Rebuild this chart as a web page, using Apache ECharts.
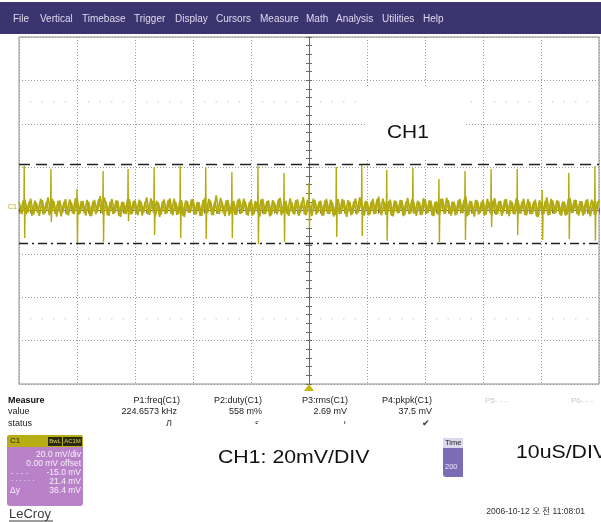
<!DOCTYPE html>
<html><head><meta charset="utf-8">
<script src="https://cdn.jsdelivr.net/npm/echarts@6/dist/echarts.min.js"></script>
<style>html,body{margin:0;padding:0;background:#fff}#c{width:601px;height:522px}</style>
</head><body><div id="c"></div><script>
// ---- data ----
const menuItems = ['File','Vertical','Timebase','Trigger','Display','Cursors','Measure','Math','Analysis','Utilities','Help'];
const xTicksUs = [-50,-40,-30,-20,-10,0,10,20,30,40,50];      // 10 uS/DIV
const yTicksMv = [-80,-60,-40,-20,0,20,40,60,80];              // 20 mV/DIV
const dotRowsMv = [50,-50];
const baselineMv = 1.4;
const noiseStartUs = -50, noiseStepUs = 0.5;
const noiseMv = [
 2.8,-3.1,3.6,-2.4,4.1,-3.3,2.2,-3.9,3.4,-2.7,4.6,-3.0,2.9,-4.2,3.2,-2.5,3.8,-3.6,2.4,-3.1,
 4.4,-2.8,3.0,-3.7,2.6,-4.0,3.5,-2.3,5.2,-3.2,2.7,-3.8,3.9,-2.6,3.1,-4.3,2.5,-3.0,4.0,-2.9,
 3.3,-3.5,2.8,-2.4,4.7,-3.4,3.0,-4.1,2.3,-3.2,3.7,-2.7,4.2,-3.6,2.6,-3.0,3.4,-4.4,2.9,-2.5,
 3.8,-3.3,2.4,-3.9,4.3,-2.6,3.1,-3.5,5.6,-3.0,2.7,-4.0,3.5,-2.8,3.0,-3.4,4.1,-2.3,2.8,-3.7,
 3.6,-3.1,2.5,-4.2,3.9,-2.9,3.3,-3.6,2.6,-3.2,4.5,-2.7,3.0,-3.9,2.4,-3.3,3.7,-2.6,4.8,-3.5,
 2.9,-4.0,3.4,-2.5,3.1,-3.7,4.0,-3.0,2.6,-3.4,3.8,-2.8,3.2,-4.3,2.7,-3.1,4.2,-2.4,3.5,-3.8,
 2.8,-3.2,3.9,-2.9,5.0,-3.6,2.5,-3.0,3.6,-4.1,2.9,-2.6,3.3,-3.5,4.4,-2.8,3.0,-3.9,2.6,-3.3,
 3.7,-2.5,3.1,-4.0,2.8,-3.4,4.1,-2.9,3.4,-3.7,2.5,-3.1,3.9,-2.7,5.3,-3.5,2.9,-4.2,3.2,-2.6,
 3.5,-3.3,2.7,-3.8,4.3,-3.0,3.0,-2.6,3.8,-4.0,2.6,-3.2,3.4,-2.8,4.0,-3.6,2.8,-3.1,3.6,-4.4,
 2.5,-2.9,4.6,-3.4,3.2,-2.7,3.0,-3.9,2.7,-3.3,4.2,-2.5,3.5,-3.7,2.9,-3.0,3.8,-4.1,2.6,-2.8,
 3.3];
const noiseBStartUs = -49.75;
const noiseBMv = [
 -2.6,3.4,-3.0,2.7,-3.8,3.1,-2.5,4.0,-3.3,2.6,-3.6,3.9,-2.8,3.0,-4.1,2.5,-3.2,3.7,-2.7,4.3,
 -3.4,2.9,-2.6,3.5,-4.0,2.8,-3.1,3.8,-2.4,4.5,-3.5,2.7,-3.0,3.3,-3.9,2.6,-2.8,4.1,-3.3,3.0,
 -2.9,3.6,-3.7,2.5,-3.2,4.2,-2.6,3.1,-4.3,2.8,-3.0,3.5,-2.7,4.0,-3.4,2.9,-3.8,3.2,-2.5,3.7,
 -3.1,2.6,-4.0,3.4,-2.8,3.9,-3.5,2.7,-3.0,4.4,-2.6,3.2,-3.7,2.8,-3.3,3.6,-2.9,4.1,-3.4,2.5,
 -3.8,3.0,-2.7,3.7,-3.2,2.9,-4.1,3.4,-2.5,3.8,-3.6,2.6,-3.0,4.2,-2.8,3.3,-3.9,2.7,-3.1,3.5,
 -2.6,4.0,-3.3,2.8,-3.7,3.1,-2.9,3.6,-4.2,2.5,-3.0,3.9,-2.7,3.4,-3.5,2.9,-3.2,4.6,-2.8,3.0,
 -3.6,2.7,-3.1,3.8,-2.5,4.1,-3.4,2.9,-3.9,3.2,-2.6,3.5,-4.0,2.8,-3.0,3.7,-2.7,3.1,-3.5,4.3,
 -2.9,3.3,-3.8,2.6,-3.2,3.9,-2.7,4.4,-3.0,2.8,-3.6,3.2,-2.5,3.6,-4.1,3.0,-2.8,3.5,-3.3,2.7,
 -3.7,4.0,-2.6,3.1,-3.4,2.9,-3.9,3.7,-2.8,3.3,-3.1,4.2,-2.7,2.6,-3.5,3.8,-3.0,2.8,-4.2,3.4,
 -2.7,3.0,-3.6,3.9,-2.9,3.3,-3.2,2.7,-3.8,4.1,-2.6,3.5,-3.1,2.9,-3.7,3.2,-2.8,3.6,-3.4,2.8];
const spikeTimesUs = [-49.1,-44.5,-40.0,-35.5,-31.2,-26.7,-22.2,-17.8,-13.3,-8.8,-4.3,0.0,4.7,9.1,13.4,17.9,22.4,26.9,31.4,35.9,40.2,44.8,49.3];
const spikeUpMv   = [20.6,19.1,9.9,18.2,19.1,20.0,20.5,20.0,17.7,20.5,17.3,12.7,20.0,21.0,18.7,19.6,14.5,18.2,19.1,19.1,9.4,17.3,20.5];
const spikeDownMv = [-12.7,-5.3,-15.4,-14.5,-5.0,-11.3,-12.7,-13.1,-12.7,-15.4,-14.5,-8.0,-12.2,-11.7,-14.0,-1.0,-14.5,-13.6,-7.6,-11.3,-13.6,-13.1,-14.0];
const cursorUpperMv = 21.4, cursorLowerMv = -15.0;
const measureHeaders = ['P1:freq(C1)','P2:duty(C1)','P3:rms(C1)','P4:pkpk(C1)'];
const measureValues  = ['224.6573 kHz','558 m%','2.69 mV','37.5 mV'];
const measureStatus  = ['Л','ε','ı','✔'];
const c1Panel = ['20.0 mV/div','0.00 mV offset','-15.0 mV','21.4 mV','36.4 mV'];

// ---- build ----
const SIG = '#b2aa10';
const noiseData = noiseMv.map((v,i)=>[noiseStartUs + i*noiseStepUs, baselineMv + v]);
const noiseBData = noiseBMv.map((v,i)=>[noiseBStartUs + i*noiseStepUs, baselineMv + v]);
const spikeData = [];
spikeTimesUs.forEach((t,i)=>{
  spikeData.push([t-0.05, baselineMv],[t, spikeUpMv[i]],[t+0.08, spikeDownMv[i]],[t+0.16, baselineMv],[t+0.16,'-']);
});
const dotData = [];
dotRowsMv.forEach(y=>{
  for(let i=0;i<xTicksUs.length-1;i++){
    const step=(xTicksUs[i+1]-xTicksUs[i])/5;
    for(let k=1;k<5;k++) dotData.push([xTicksUs[i]+k*step,y]);
  }
});

const F = '"Liberation Sans", Arial, sans-serif';
function txt(x,y,text,size,fill,align,extra){
  return Object.assign({type:'text', x:x, y:y, z:20, silent:true,
    style:{text:text, x:0, y:0, font:(extra&&extra.weight?extra.weight+' ':'')+size+'px '+F, fill:fill,
      textAlign:align||'left', textVerticalAlign:'middle'}}, extra&&extra.el||{});
}
const menuX = [13,40,82,134,175,216,260,306,336,382,423];
const graphics = [
  {type:'rect', z:1, shape:{x:0,y:2,width:601,height:32}, style:{fill:'#3c346f'}},
  ...menuItems.map((m,i)=>txt(menuX[i],19,m,10,'#dedbf0')),
  txt(8,207,'C1',7,SIG),
  {type:'rect', z:15, shape:{x:366,y:88,width:98,height:72}, style:{fill:'#fff'}},
  txt(387,133,'CH1',19,'#111','left',{el:{scaleX:1.1}}),
  {type:'polygon', z:20, shape:{points:[[304,391],[314,391],[309,384]]}, style:{fill:'#c9b90a'}},
  txt(8,401,'Measure',9,'#111','left',{weight:'bold'}),
  txt(8,412,'value',9,'#222'),
  txt(8,423.5,'status',9,'#222'),
  ...measureHeaders.map((h,i)=>txt([180,262,348,432][i],401,h,9,'#222','right')),
  ...measureValues.map((h,i)=>txt([177,262,347,432][i],412,h,9,'#222','right')),
  ...measureStatus.map((h,i)=>txt([172,259,346,430][i],424,h,9,'#333','right')),
  txt(485,401,'P5- - -',8,'#c8c8c8'),
  txt(571,401,'P6- - -',8,'#c8c8c8'),
  {type:'rect', z:25, shape:{x:198,y:424,width:216,height:74}, style:{fill:'#fff'}},
  txt(218,458,'CH1: 20mV/DIV',19,'#111','left',{el:{scaleX:1.12, z:26}}),
  // C1 channel panel
  {type:'rect', z:20, shape:{x:7,y:435,width:76,height:71,r:3}, style:{fill:'#b982c8'}},
  {type:'rect', z:21, shape:{x:7,y:435,width:76,height:12,r:[3,3,0,0]}, style:{fill:'#b7ad14'}},
  {type:'rect', z:22, shape:{x:48,y:437,width:14,height:9}, style:{fill:'#2a2a10'}},
  {type:'rect', z:22, shape:{x:63,y:437,width:19,height:9}, style:{fill:'#2a2a10'}},
  txt(10,441,'C1',8,'#222','left',{el:{z:23}}),
  txt(55,441.5,'BwL',6,'#d8d060','center',{el:{z:23}}),
  txt(72.5,441.5,'AC1M',6,'#d8d060','center',{el:{z:23}}),
  ...c1Panel.map((s,i)=>txt(81,[455,464,472.5,481.5,490.5][i],s,8.5,'#f7f0fa','right',{el:{z:23}})),
  txt(11,472.5,'- - - -',8,'#f0e6f4','left',{el:{z:23}}),
  txt(11,481.5,'· · · · · ·',7,'#f0e6f4','left',{el:{z:23}}),
  txt(10,490.5,'Δy',8.5,'#f7f0fa','left',{el:{z:23}}),
  txt(9,514,'LeCroy',13,'#3a3a3a','left'),
  {type:'line', z:20, shape:{x1:9,y1:521,x2:53,y2:521}, style:{stroke:'#3a3a3a',lineWidth:1}},
  // timebase panel
  {type:'rect', z:20, shape:{x:443,y:438,width:24,height:39,r:3}, style:{fill:'#7b6db5'}},
  {type:'rect', z:21, shape:{x:443,y:438,width:24,height:10,r:[3,3,0,0]}, style:{fill:'#dcd8ef'}},
  txt(445,443,'Time',7.5,'#222','left',{el:{z:22}}),
  txt(445,467,'200',7.5,'#eeeaff','left',{el:{z:22}}),
  {type:'rect', z:25, shape:{x:463,y:432,width:138,height:63}, style:{fill:'#fff'}},
  txt(516,452.5,'10uS/DIV',19,'#111','left',{el:{scaleX:1.12, z:26}}),
  {type:'text', x:585, y:512, z:20, style:{text:'2006-10-12 오 전 11:08:01', x:0,y:0, font:'8.5px "Liberation Sans","Noto Sans CJK KR",sans-serif', fill:'#333', textAlign:'right', textVerticalAlign:'middle'}}
];

const axisCommon = {
  type:'value', axisLabel:{show:false},
  axisLine:{show:true, onZero:true, lineStyle:{color:'#6a6a6a', width:1}},
  axisTick:{show:true, inside:true, length:3, lineStyle:{color:'#6a6a6a'}},
  minorTick:{show:true, splitNumber:5, length:3, lineStyle:{color:'#6a6a6a'}}
};
const xMin = xTicksUs[0], xMax = xTicksUs[xTicksUs.length-1], xInt = xTicksUs[1]-xTicksUs[0];
const yMin = yTicksMv[0], yMax = yTicksMv[yTicksMv.length-1], yInt = yTicksMv[1]-yTicksMv[0];
const split = {show:true, lineStyle:{color:'#9a9a9a', type:[1,2], width:1}};
const chart = echarts.init(document.getElementById('c'), null, {renderer:'canvas'});
chart.setOption({
  animation:false,
  backgroundColor:'#fff',
  grid:{left:19, top:37, width:580, height:347, show:true, borderColor:'#8c8c8c', borderWidth:1, backgroundColor:'#fff'},
  xAxis:[
    Object.assign({}, axisCommon, {min:xMin,max:xMax,interval:xInt, position:'bottom', splitLine:split}),
    Object.assign({}, axisCommon, {min:xMin,max:xMax,interval:xInt, position:'top', splitLine:{show:false}})
  ],
  yAxis:[
    Object.assign({}, axisCommon, {min:yMin,max:yMax,interval:yInt, position:'left', splitLine:split}),
    Object.assign({}, axisCommon, {min:yMin,max:yMax,interval:yInt, position:'right', splitLine:{show:false}})
  ],
  graphic:graphics,
  series:[
    {type:'scatter', silent:true, data:dotData, symbol:'circle', symbolSize:1.6, itemStyle:{color:'#c4c4c4'}, z:1},
    {type:'line', name:'noise', data:noiseData, showSymbol:false, symbol:'none', silent:true,
     lineStyle:{color:SIG, width:1.7}, z:3,
     markLine:{silent:true, symbol:'none', label:{show:false},
       data:[
         {yAxis:cursorUpperMv, lineStyle:{color:'#222', width:1.3, type:[11,6]}},
         {yAxis:cursorLowerMv, lineStyle:{color:'#222', width:1.3, type:[9,4,2,4]}}
       ]}},
    {type:'line', name:'noiseB', data:noiseBData, showSymbol:false, symbol:'none', silent:true,
     lineStyle:{color:SIG, width:1.7}, z:3},
    {type:'line', name:'spikes', data:spikeData, showSymbol:false, symbol:'none', silent:true, connectNulls:false,
     lineStyle:{color:SIG, width:1.4}, z:4}
  ]
});
</script></body></html>
